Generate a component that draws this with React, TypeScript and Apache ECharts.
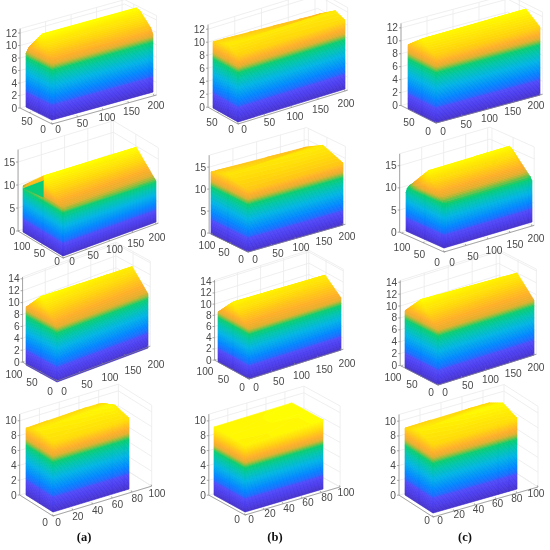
import React, { useEffect, useRef } from "react";
import * as echarts from "echarts";

// ---------- tick labels ----------
const xTicksLong = [0, 50, 100, 150, 200];
const xTicksShort = [0, 20, 40, 60, 80, 100];
const yTicksRow1 = [0, 50];
const yTicksRow23 = [0, 50, 100];
const yTicksRow4 = [0];
const zTicksRow1 = [0, 2, 4, 6, 8, 10, 12];
const zTicksRow2 = [0, 5, 10, 15];
const zTicksRow3 = [0, 2, 4, 6, 8, 10, 12, 14];
const zTicksRow4 = [0, 2, 4, 6, 8, 10];
const captions = ["(a)", "(b)", "(c)"];

// ---------- height fields: heights[xIndex][yIndex] ----------
const xs11 = [0, 6, 190, 198];
const ys11 = [0, 5, 28, 52, 57];
const heights11 = [
  [8.6, 9.6, 11.6, 9.4, 8.5],
  [9.5, 10.1, 12.6, 10, 9.4],
  [9.8, 10.4, 12.6, 10.2, 9.6],
  [9.2, 10.1, 11.9, 9.8, 9],
];
const xs12 = [0, 200];
const ys12 = [0, 23, 60];
const heights12 = [
  [10.3, 11.2, 10.2],
  [10.6, 11.2, 9.4],
];
const xs13 = [0, 200];
const ys13 = [0, 30, 60];
const heights13 = [
  [10.3, 11.9, 9.9],
  [10.5, 12.2, 9.8],
];
const xs21 = [0, 0.5, 200];
const ys21 = [0, 44, 89];
const heights21 = [
  [10.2, 10.2, 9.6],
  [10.2, 14.8, 10],
  [9.6, 14.7, 9.2],
];
const xs22 = [0, 200];
const ys22 = [0, 54, 100];
const heights22 = [
  [14.1, 15.5, 14.1],
  [14.1, 15.9, 13.6],
];
const xs23 = [0, 3, 8, 192, 200];
const ys23 = [0, 4, 45, 86, 90];
const heights23 = [
  [8.6, 9.5, 12, 9.5, 8.6],
  [9.5, 10.2, 14, 10, 9.5],
  [10, 10.4, 15.3, 10.4, 10],
  [10, 10.4, 15.4, 10.4, 10],
  [9.2, 10, 14.2, 10, 9.2],
];
const xs31 = [0, 200];
const ys31 = [0, 46, 90];
const heights31 = [
  [9.5, 12.9, 9.7],
  [9.1, 12.2, 9],
];
const xs32 = [0, 200];
const ys32 = [0, 46, 90];
const heights32 = [
  [9, 12.2, 8.9],
  [9.3, 11.8, 9],
];
const xs33 = [0, 200];
const ys33 = [0, 46, 90];
const heights33 = [
  [9.4, 12.9, 9.6],
  [9.2, 12.3, 9.2],
];
const xs41 = [0, 60, 72, 77];
const ys41 = [0, 15, 30];
const heights41 = [
  [9.4, 10, 9],
  [9.5, 10.3, 9.3],
  [9.5, 10.4, 9.3],
  [9.55, 10.1, 9.2],
];
const xs42 = [0, 82];
const ys42 = [0, 15, 30];
const heights42 = [
  [9, 9.2, 9.15],
  [9.3, 9.3, 9.3],
];
const xs43 = [0, 62, 72, 80];
const ys43 = [0, 15, 30];
const heights43 = [
  [9.3, 10, 9.05],
  [9.4, 10.4, 9.2],
  [9.5, 10.4, 9.2],
  [9.6, 10.4, 9.2],
];

// colour ceiling of each panel, in z units
const colourTops = [12.6, 12, 12.3, 14.8, 17, 15.6, 13, 12.6, 13, 10.6, 9.4, 10.6];
const axisLimits = [
  [205, 70, 12.7], [205, 72, 12.7], [205, 75, 12.7],
  [205, 100, 17.7], [205, 105, 17.7], [205, 105, 17.7],
  [205, 100, 14.3], [205, 100, 14.3], [205, 103, 14.3],
  [100, 37, 10.9], [100, 35, 10.9], [100, 36.4, 10.9],
];

// ---------- oblique view of each panel (page pixels) ----------
type View = { o: number[]; r: number[]; l: number[]; zu: number; zuEnd: number; drop: number };
const views: View[] = [
  { o: [52, 120], r: [153, 92], l: [26, 107], zu: 6.25, zuEnd: 6.25, drop: 4 },
  { o: [238, 122], r: [345, 89], l: [213, 108], zu: 6.5, zuEnd: 6.5, drop: 2 },
  { o: [436, 123], r: [540, 95], l: [408, 109], zu: 6.47, zuEnd: 6.47, drop: 0 },
  { o: [63, 256], r: [156, 222], l: [23, 232], zu: 4.6, zuEnd: 4.27, drop: 2 },
  { o: [248, 252], r: [343, 225], l: [211, 234], zu: 4.4, zuEnd: 4.4, drop: 0 },
  { o: [444, 248], r: [532, 222], l: [406, 231], zu: 4.43, zuEnd: 4.43, drop: 4 },
  { o: [57, 382], r: [148, 348], l: [26, 365], zu: 5.95, zuEnd: 5.95, drop: -1 },
  { o: [249, 379], r: [341, 350], l: [218, 362], zu: 5.6, zuEnd: 5.6, drop: 0 },
  { o: [438, 385], r: [534, 355], l: [405, 368], zu: 5.95, zuEnd: 5.95, drop: 0 },
  { o: [53, 512], r: [129, 489], l: [26, 495], zu: 7.43, zuEnd: 7.43, drop: 4 },
  { o: [245, 512], r: [323, 489], l: [214, 495], zu: 7.43, zuEnd: 7.43, drop: 3 },
  { o: [433, 513], r: [517, 489], l: [405, 495], zu: 7.4, zuEnd: 7.4, drop: 4 },
];

// where the first and last tick label of each panel sit: x0, y0, x1, y1
const xLabelEnds = [
  [58, 129, 156, 105], [244, 129, 346, 103], [443, 131, 536, 105],
  [72, 261, 157, 237], [255, 259, 347, 236], [452, 262, 536, 238],
  [64, 391, 156, 364], [256, 387, 347, 363], [445, 392, 536, 367],
  [58, 522, 157, 493], [251, 519, 346, 492], [440, 520, 536, 493],
];
const yLabelEnds = [
  [43, 129, 27, 121], [231, 129, 212, 122], [428, 131, 409, 122],
  [57, 261, 22, 246], [241, 259, 207, 245], [437, 262, 402, 247],
  [50, 391, 14, 374], [242, 387, 205, 371.5], [431, 392, 393, 377],
  [45, 522, 45, 522], [237, 519, 237, 519], [427, 520, 427, 520],
];

const xsAll = [xs11, xs12, xs13, xs21, xs22, xs23, xs31, xs32, xs33, xs41, xs42, xs43];
const ysAll = [ys11, ys12, ys13, ys21, ys22, ys23, ys31, ys32, ys33, ys41, ys42, ys43];
const heightsAll = [heights11, heights12, heights13, heights21, heights22, heights23, heights31, heights32, heights33, heights41, heights42, heights43];
const xTicksAll = [0, 1, 2, 3, 4, 5, 6, 7, 8].map(() => xTicksLong).concat([xTicksShort, xTicksShort, xTicksShort]);
const yTicksAll = [yTicksRow1, yTicksRow1, yTicksRow1, yTicksRow23, yTicksRow23, yTicksRow23, yTicksRow23, yTicksRow23, yTicksRow23, yTicksRow4, yTicksRow4, yTicksRow4];
const zTicksAll = [zTicksRow1, zTicksRow1, zTicksRow1, zTicksRow2, zTicksRow2, zTicksRow2, zTicksRow3, zTicksRow3, zTicksRow3, zTicksRow4, zTicksRow4, zTicksRow4];

// the stepped gable end of the first panel of row 2: [panel, level, points x,y,z]
const patches: { panel: number; level: number; pts: number[][] }[] = [
  { panel: 3, level: 0.62, pts: [[0, 89, 9.6], [0, 44, 10.2], [0, 44, 13.9]] },
  { panel: 3, level: 0.8, pts: [[0, 89, 9.6], [0, 44, 13.9], [0, 44, 14.8]] },
];

// colour ramp of the picture
const rampAt = [0, 0.1, 0.19, 0.215, 0.3, 0.44, 0.56, 0.635, 0.675, 0.715, 0.77, 0.87, 1];
const rampRgb = [
  [70, 50, 200], [75, 60, 235], [80, 75, 250], [30, 105, 255], [0, 135, 255], [0, 180, 228], [0, 198, 165],
  [10, 205, 110], [140, 190, 60], [230, 175, 45], [255, 175, 40], [255, 215, 10], [255, 255, 0],
];
function ramp(t: number) {
  const v = Math.max(0, Math.min(1, t));
  let i = 0;
  while (i < rampAt.length - 2 && v > rampAt[i + 1]) i++;
  const f = (v - rampAt[i]) / (rampAt[i + 1] - rampAt[i]);
  const c = rampRgb[i].map((a, k) => Math.round(a + (rampRgb[i + 1][k] - a) * f));
  return `rgb(${c[0]},${c[1]},${c[2]})`;
}

function project(p: number, x: number, y: number, z: number) {
  const v = views[p];
  const L = xsAll[p][xsAll[p].length - 1];
  const W = ysAll[p][ysAll[p].length - 1];
  const ux = [(v.r[0] - v.o[0]) / L, (v.r[1] - v.o[1]) / L];
  const uy = [(v.l[0] - v.o[0]) / W, (v.l[1] - v.o[1]) / W];
  const zu = v.zu + ((v.zuEnd - v.zu) * x) / L;
  return [v.o[0] + x * ux[0] + y * uy[0], v.o[1] + x * ux[1] + y * uy[1] - z * zu];
}

function clip(poly: number[][], lo: number, hi: number) {
  const cut = (pts: number[][], keep: (z: number) => boolean, lim: number) => {
    const out: number[][] = [];
    for (let i = 0; i < pts.length; i++) {
      const a = pts[i];
      const b = pts[(i + 1) % pts.length];
      const ka = keep(a[2]);
      const kb = keep(b[2]);
      if (ka) out.push(a);
      if (ka !== kb) {
        const f = (lim - a[2]) / (b[2] - a[2]);
        out.push([a[0] + (b[0] - a[0]) * f, a[1] + (b[1] - a[1]) * f, lim]);
      }
    }
    return out;
  };
  const first = cut(poly, (z) => z >= lo, lo);
  return first.length ? cut(first, (z) => z <= hi, hi) : first;
}

type Poly = { pts: number[][]; color: string };
const BANDS = 64;

function buildPolys() {
  const polys: Poly[] = [];
  xsAll.forEach((xs, p) => {
    const ys = ysAll[p];
    const hs = heightsAll[p];
    const top = colourTops[p];
    const step = top / BANDS;
    const addFace = (face: number[][]) => {
      const zz = face.map((q) => q[2]);
      const zMin = Math.min(...zz);
      const zMax = Math.max(...zz);
      for (let b = Math.floor(zMin / step); b * step < zMax; b++) {
        const part = clip(face, b * step, (b + 1) * step);
        if (part.length >= 3) {
          polys.push({ pts: part.map((q) => project(p, q[0], q[1], q[2])), color: ramp((b + 0.5) / BANDS) });
        }
      }
    };
    for (let i = xs.length - 2; i >= 0; i--) {
      for (let j = ys.length - 2; j >= 0; j--) {
        const a = [xs[i], ys[j], hs[i][j]];
        const b = [xs[i + 1], ys[j], hs[i + 1][j]];
        const c = [xs[i + 1], ys[j + 1], hs[i + 1][j + 1]];
        const d = [xs[i], ys[j + 1], hs[i][j + 1]];
        addFace([a, b, c]);
        addFace([a, c, d]);
      }
    }
    for (let j = ys.length - 2; j >= 0; j--) {
      addFace([[xs[0], ys[j], 0], [xs[0], ys[j + 1], 0], [xs[0], ys[j + 1], hs[0][j + 1]], [xs[0], ys[j], hs[0][j]]]);
    }
    for (let i = xs.length - 2; i >= 0; i--) {
      addFace([[xs[i], ys[0], 0], [xs[i + 1], ys[0], 0], [xs[i + 1], ys[0], hs[i + 1][0]], [xs[i], ys[0], hs[i][0]]]);
    }
  });
  patches.forEach((g) => {
    polys.push({ pts: g.pts.map((q) => project(g.panel, q[0], q[1], q[2])), color: ramp(g.level) });
  });
  return polys;
}

type Seg = { a: number[]; b: number[] };
type Label = { at: number[]; text: string; align: string };

function buildFrames() {
  const grid: Seg[] = [];
  const axes: Seg[] = [];
  const labels: Label[] = [];
  xsAll.forEach((_, p) => {
    const [xMax, yMax, zMax] = axisLimits[p];
    const P = (x: number, y: number, z: number) => {
      const q = project(p, x, y, z);
      return [q[0], q[1] + views[p].drop];
    };
    const xt = xTicksAll[p];
    const yt = yTicksAll[p];
    const xe = xLabelEnds[p];
    const ye = yLabelEnds[p];
    xt.forEach((t, i) => {
      grid.push({ a: P(t, 0, 0), b: P(t, yMax, 0) });
      grid.push({ a: P(t, yMax, 0), b: P(t, yMax, zMax) });
      const q = P(t, 0, 0);
      axes.push({ a: q, b: [q[0] - 0.6, q[1] - 1.6] });
      const f = i / (xt.length - 1);
      labels.push({ at: [xe[0] + (xe[2] - xe[0]) * f, xe[1] + (xe[3] - xe[1]) * f], text: String(t), align: "center" });
    });
    yt.forEach((t, i) => {
      grid.push({ a: P(0, t, 0), b: P(xMax, t, 0) });
      grid.push({ a: P(xMax, t, 0), b: P(xMax, t, zMax) });
      const q = P(0, t, 0);
      axes.push({ a: q, b: [q[0] + 1.6, q[1] - 0.5] });
      const f = yt.length > 1 ? i / (yt.length - 1) : 0;
      labels.push({ at: [ye[0] + (ye[2] - ye[0]) * f, ye[1] + (ye[3] - ye[1]) * f], text: String(t), align: "center" });
    });
    zTicksAll[p].forEach((t) => {
      grid.push({ a: P(0, yMax, t), b: P(xMax, yMax, t) });
      grid.push({ a: P(xMax, yMax, t), b: P(xMax, 0, t) });
      const q = P(0, yMax, t);
      axes.push({ a: q, b: [q[0] - 2, q[1]] });
      labels.push({ at: [q[0] - 3, q[1]], text: String(t), align: "right" });
    });
    grid.push({ a: P(0, yMax, zMax), b: P(xMax, yMax, zMax) });
    grid.push({ a: P(xMax, yMax, zMax), b: P(xMax, 0, zMax) });
    axes.push({ a: P(0, 0, 0), b: P(xMax, 0, 0) });
    axes.push({ a: P(0, 0, 0), b: P(0, yMax, 0) });
    axes.push({ a: P(0, yMax, 0), b: P(0, yMax, zMax) });
  });
  return { grid, axes, labels };
}

const captionAt = [[84, 537], [275, 537], [465, 537]];

export default function App() {
  const ref = useRef<HTMLDivElement>(null);
  useEffect(() => {
    const chart = echarts.init(ref.current!, undefined, { renderer: "svg" });
    const polys = buildPolys();
    const { grid, axes, labels } = buildFrames();
    const segSeries = (segs: Seg[], color: string, z: number, lineWidth: number) => ({
      type: "custom",
      coordinateSystem: "cartesian2d",
      silent: true,
      clip: false,
      z,
      data: segs.map((s) => [s.a[0], s.a[1]]),
      renderItem: (params: any, api: any) => {
        const s = segs[params.dataIndex];
        const a = api.coord(s.a);
        const b = api.coord(s.b);
        return { type: "line", shape: { x1: a[0], y1: a[1], x2: b[0], y2: b[1] }, style: { stroke: color, lineWidth, fill: "none" } };
      },
    });
    chart.setOption({
      animation: false,
      backgroundColor: "#ffffff",
      grid: { left: 0, top: 0, width: 550, height: 550, containLabel: false },
      xAxis: { type: "value", min: 0, max: 550, show: false },
      yAxis: { type: "value", min: 0, max: 550, inverse: true, show: false },
      series: [
        segSeries(grid, "#ebebeb", 1, 0.8),
        {
          type: "custom",
          coordinateSystem: "cartesian2d",
          silent: true,
          clip: false,
          z: 2,
          data: polys.map((g) => [g.pts[0][0], g.pts[0][1]]),
          renderItem: (params: any, api: any) => {
            const g = polys[params.dataIndex];
            return {
              type: "polygon",
              shape: { points: g.pts.map((q) => api.coord(q)) },
              style: { fill: g.color, stroke: g.color, lineWidth: 0.7 },
            };
          },
        },
        segSeries(axes, "#858585", 3, 0.7),
        {
          type: "custom",
          coordinateSystem: "cartesian2d",
          silent: true,
          clip: false,
          z: 4,
          data: labels.map((l) => [l.at[0], l.at[1]]),
          renderItem: (params: any, api: any) => {
            const l = labels[params.dataIndex];
            const c = api.coord(l.at);
            return {
              type: "text",
              x: c[0],
              y: c[1],
              style: { text: l.text, fill: "#4a4a4a", font: '10.2px "Liberation Sans"', textAlign: l.align, textVerticalAlign: "middle" },
            };
          },
        },
        {
          type: "custom",
          coordinateSystem: "cartesian2d",
          silent: true,
          clip: false,
          z: 4,
          data: captions.map((_, i) => captionAt[i]),
          renderItem: (params: any, api: any) => {
            const c = api.coord(captionAt[params.dataIndex]);
            return {
              type: "text",
              x: c[0],
              y: c[1],
              style: { text: captions[params.dataIndex], fill: "#111111", font: 'bold 12.5px "Liberation Serif"', textAlign: "center", textVerticalAlign: "middle" },
            };
          },
        },
      ],
    });
    return () => chart.dispose();
  }, []);
  return <div ref={ref} style={{ position: "absolute", left: 0, top: 0, width: 550, height: 550, filter: "blur(0.3px)" }} />;
}
